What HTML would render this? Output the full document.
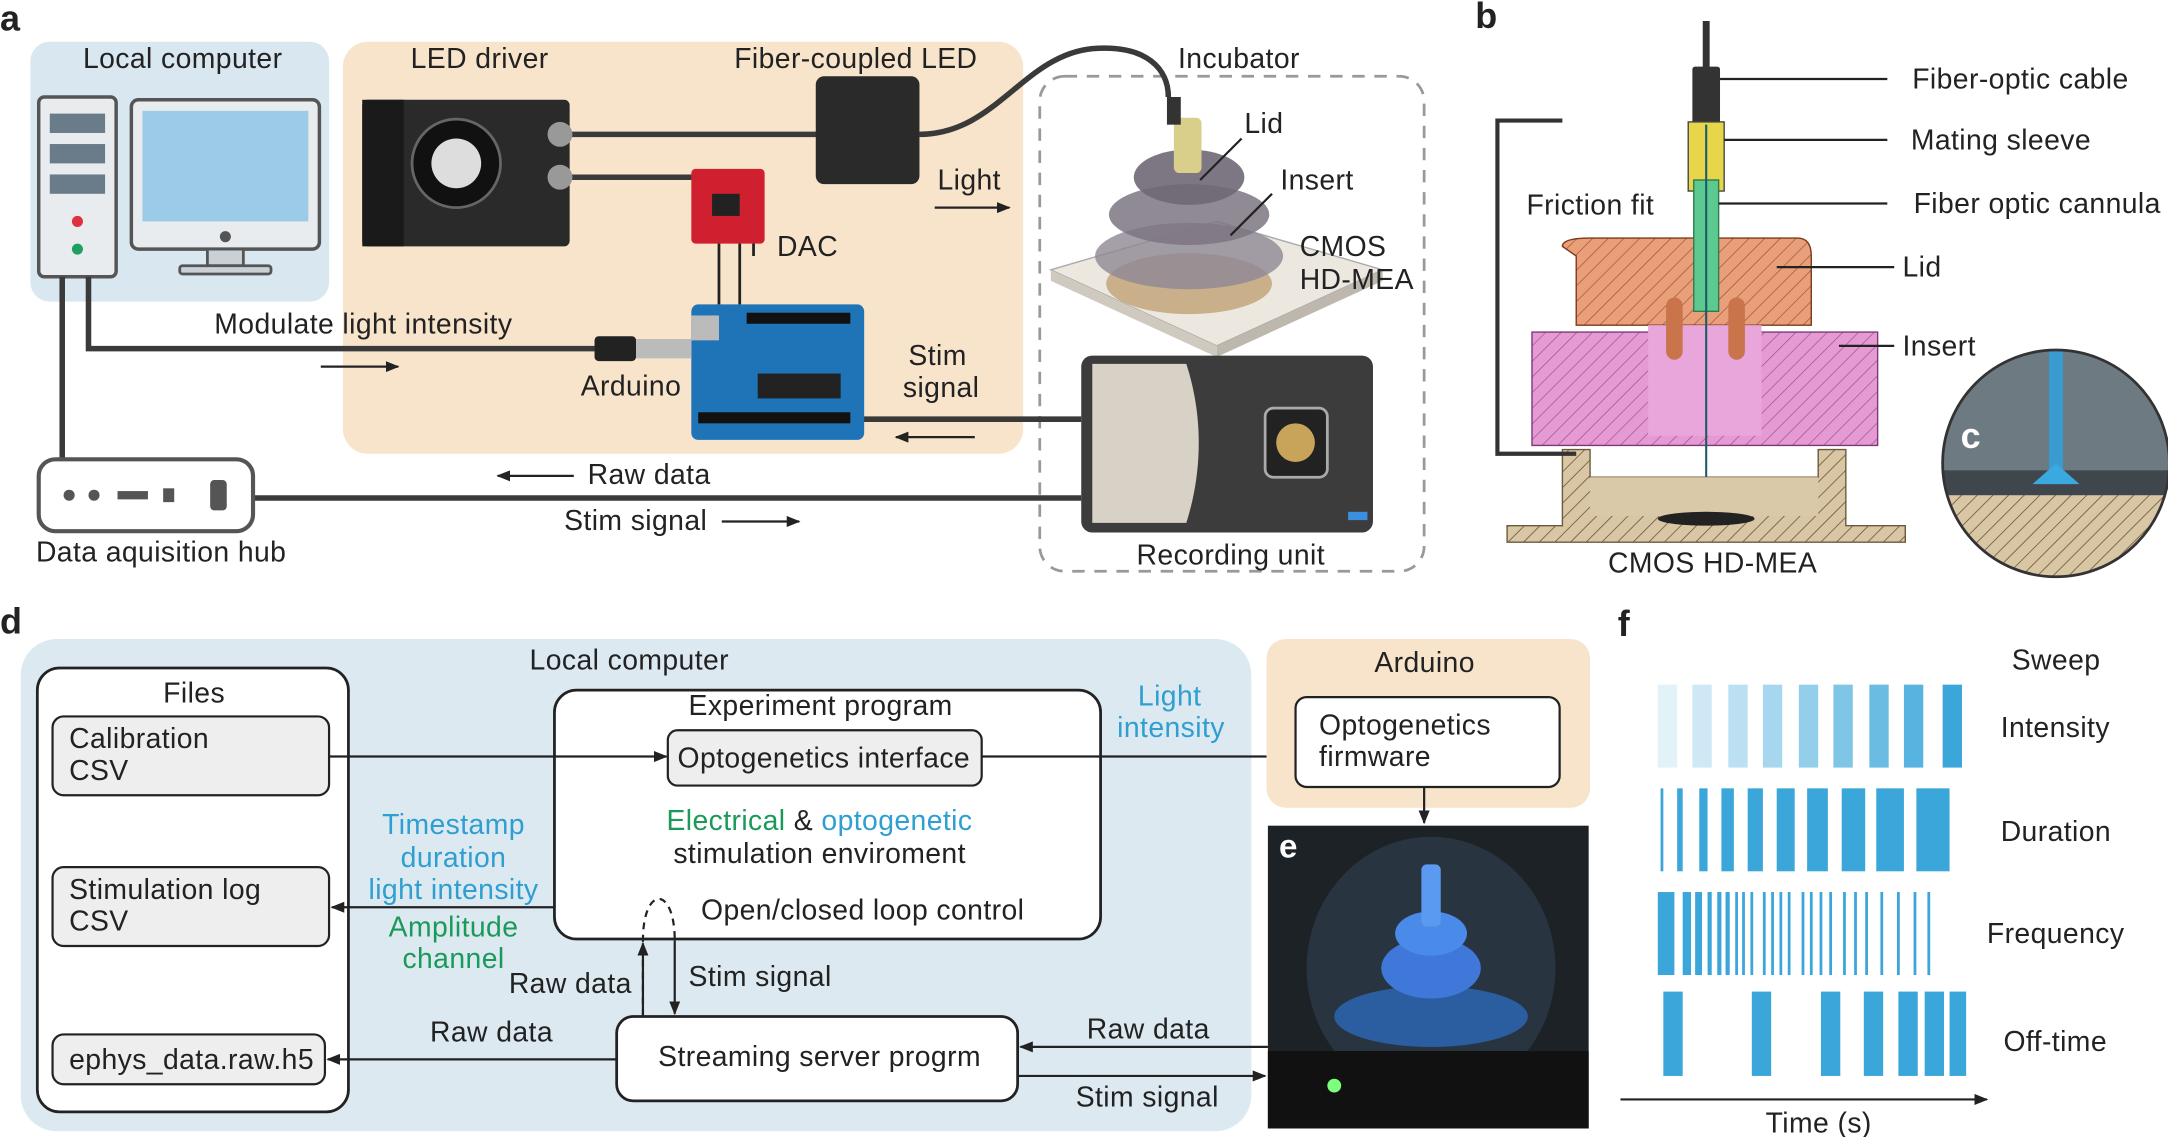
<!DOCTYPE html>
<html><head><meta charset="utf-8"><style>
html,body{margin:0;padding:0;background:#fff;}
svg{display:block;}
text{font-family:"Liberation Sans",sans-serif;fill:#222;}
text.l{font-size:20.5px;letter-spacing:0.3px;}
</style></head><body>
<svg width="2168" height="1137" viewBox="0 0 1568 822" xmlns="http://www.w3.org/2000/svg">
<defs>
<marker id="ar" markerWidth="10" markerHeight="8" refX="9" refY="4" orient="auto" markerUnits="userSpaceOnUse"><path d="M0,0 L10,4 L0,8 z" fill="#222"/></marker>
<pattern id="hatch" width="8" height="8" patternUnits="userSpaceOnUse" patternTransform="rotate(45)"><rect width="8" height="8" fill="#d9c6a5"/><line x1="0" y1="0" x2="0" y2="8" stroke="#6b5a3c" stroke-width="1.2"/></pattern>
<pattern id="hatchO" width="8" height="8" patternUnits="userSpaceOnUse" patternTransform="rotate(45)"><rect width="8" height="8" fill="#e9a07a"/><line x1="0" y1="0" x2="0" y2="8" stroke="#a0522d" stroke-width="1"/></pattern>
<pattern id="hatchP" width="8" height="8" patternUnits="userSpaceOnUse" patternTransform="rotate(45)"><rect width="8" height="8" fill="#e59ad3"/><line x1="0" y1="0" x2="0" y2="8" stroke="#a0508f" stroke-width="1"/></pattern>
</defs>

<!-- ============ Panel a ============ -->
<text x="0" y="22" font-size="26" font-weight="bold">a</text>
<rect x="22" y="30" width="216" height="188" rx="14" fill="#d8e7f0"/>
<rect x="248" y="30" width="492" height="298" rx="18" fill="#f7e4cb"/>
<rect x="752" y="55" width="278" height="358" rx="18" fill="none" stroke="#999" stroke-width="2" stroke-dasharray="9,7"/>

<text class="l" x="60" y="49">Local computer</text>
<text class="l" x="297" y="49">LED driver</text>
<text class="l" x="531" y="49">Fiber-coupled LED</text>
<text class="l" x="852" y="49">Incubator</text>

<rect x="28" y="70" width="56" height="130" rx="4" fill="#e8ecef" stroke="#555" stroke-width="2.5"/>
<rect x="36" y="82" width="40" height="14" fill="#6a7b89"/>
<rect x="36" y="104" width="40" height="14" fill="#6a7b89"/>
<rect x="36" y="126" width="40" height="14" fill="#6a7b89"/>
<circle cx="56" cy="160" r="4" fill="#e03040"/><circle cx="56" cy="180" r="4" fill="#20a060"/>
<rect x="95" y="72" width="136" height="108" rx="5" fill="#e8ecef" stroke="#555" stroke-width="2.5"/>
<rect x="103" y="80" width="120" height="80" fill="#9ccbe7"/>
<circle cx="163" cy="171" r="4" fill="#555"/>
<rect x="150" y="180" width="26" height="12" fill="#c9d0d6" stroke="#555" stroke-width="2"/>
<rect x="130" y="192" width="66" height="6" rx="2" fill="#c9d0d6" stroke="#555" stroke-width="2"/>

<g stroke="#3a3a3a" stroke-width="4" fill="none">
<path d="M64,200 V252 H430"/>
<path d="M45,200 V332"/>
<path d="M183,360 H782"/>
<path d="M620,303 H782"/>
<path d="M412,97 H595"/>
<path d="M412,128 H505"/>
<path d="M665,97 C720,97 740,40 790,35 C830,32 845,50 845,70"/>
</g>
<rect x="262" y="72" width="150" height="106" rx="4" fill="#2a2a2a"/>
<rect x="262" y="72" width="30" height="106" fill="#1a1a1a"/>
<circle cx="330" cy="118" r="32" fill="#111" stroke="#666" stroke-width="2"/>
<circle cx="330" cy="118" r="18" fill="#ddd"/>
<circle cx="405" cy="97" r="9" fill="#999"/><circle cx="405" cy="128" r="9" fill="#999"/>
<rect x="590" y="55" width="75" height="78" rx="6" fill="#2a2a2a"/>
<rect x="500" y="122" width="53" height="54" rx="3" fill="#d02030"/>
<rect x="515" y="140" width="20" height="16" fill="#222"/>
<g stroke="#222" stroke-width="2"><line x1="520" y1="176" x2="520" y2="220"/><line x1="535" y1="176" x2="535" y2="220"/><line x1="545" y1="176" x2="545" y2="185"/></g>
<text class="l" x="562" y="185">DAC</text>
<rect x="500" y="220" width="125" height="98" rx="5" fill="#1f73b7"/>
<rect x="500" y="228" width="20" height="18" fill="#bbb"/>
<rect x="548" y="270" width="60" height="18" fill="#222"/>
<rect x="505" y="298" width="110" height="8" fill="#111"/>
<rect x="540" y="226" width="75" height="8" fill="#111"/>
<rect x="430" y="243" width="30" height="18" rx="3" fill="#222"/>
<rect x="460" y="245" width="40" height="14" fill="#bbb"/>
<text class="l" x="420" y="286">Arduino</text>
<text class="l" x="155" y="241">Modulate light intensity</text>
<line x1="232" y1="265" x2="288" y2="265" stroke="#222" stroke-width="1.6" marker-end="url(#ar)"/>
<text class="l" x="678" y="137">Light</text>
<line x1="676" y1="150" x2="730" y2="150" stroke="#222" stroke-width="1.6" marker-end="url(#ar)"/>
<text class="l" x="657" y="264">Stim</text>
<text class="l" x="653" y="287">signal</text>
<line x1="705" y1="316" x2="648" y2="316" stroke="#222" stroke-width="1.6" marker-end="url(#ar)"/>

<polygon points="760,195 880,160 1000,195 880,250" fill="#ece8e0" stroke="#aaa"/>
<polygon points="760,195 880,250 880,258 760,203" fill="#cfc9bf"/>
<polygon points="880,250 1000,195 1000,203 880,258" fill="#bdb7ad"/>
<ellipse cx="860" cy="205" rx="60" ry="22" fill="#c9b08a"/>
<ellipse cx="860" cy="185" rx="68" ry="24" fill="#8e8793" opacity="0.8"/>
<ellipse cx="860" cy="155" rx="58" ry="22" fill="#7d7683" opacity="0.85"/>
<ellipse cx="860" cy="128" rx="40" ry="20" fill="#6f6875" opacity="0.9"/>
<rect x="849" y="85" width="20" height="40" rx="4" fill="#d9cf8a"/>
<rect x="844" y="70" width="10" height="20" fill="#333"/>
<line x1="868" y1="130" x2="898" y2="100" stroke="#222" stroke-width="1.6"/>
<line x1="890" y1="170" x2="920" y2="140" stroke="#222" stroke-width="1.6"/>
<text class="l" x="900" y="96">Lid</text>
<text class="l" x="926" y="137">Insert</text>
<text class="l" x="940" y="185">CMOS</text>
<text class="l" x="940" y="209">HD-MEA</text>

<rect x="782" y="257" width="211" height="128" rx="8" fill="#3c3c3c"/>
<path d="M790,263 H858 C870,300 870,340 858,378 H790 z" fill="#d8d2c6"/>
<rect x="915" y="295" width="45" height="50" rx="6" fill="#222" stroke="#aaa" stroke-width="2"/>
<circle cx="937" cy="320" r="14" fill="#c8a45a"/>
<rect x="975" y="370" width="14" height="6" fill="#3a8fe0"/>
<text class="l" x="822" y="408">Recording unit</text>

<rect x="28" y="332" width="155" height="52" rx="12" fill="#fff" stroke="#555" stroke-width="3"/>
<circle cx="50" cy="358" r="4" fill="#555"/><circle cx="68" cy="358" r="4" fill="#555"/>
<rect x="85" y="355" width="22" height="6" fill="#555"/><rect x="118" y="353" width="8" height="10" fill="#555"/>
<rect x="152" y="347" width="12" height="22" rx="3" fill="#555"/>
<text class="l" x="26" y="406">Data aquisition hub</text>
<text class="l" x="425" y="350">Raw data</text>
<line x1="415" y1="344" x2="360" y2="344" stroke="#222" stroke-width="1.6" marker-end="url(#ar)"/>
<text class="l" x="408" y="383">Stim signal</text>
<line x1="522" y1="377" x2="578" y2="377" stroke="#222" stroke-width="1.6" marker-end="url(#ar)"/>

<!-- ============ Panel b ============ -->
<text x="1067" y="20" font-size="26" font-weight="bold">b</text>
<line x1="1234" y1="15" x2="1234" y2="50" stroke="#333" stroke-width="5"/>
<rect x="1224" y="48" width="20" height="42" rx="2" fill="#333"/>
<rect x="1221" y="88" width="26" height="50" fill="#e8d64a" stroke="#444"/>
<path d="M1130,178 Q1130,172 1150,172 H1300 Q1310,172 1310,185 V235 H1140 V185 z" fill="url(#hatchO)" stroke="#7a3a1a"/>
<rect x="1108" y="240" width="250" height="82" fill="url(#hatchP)" stroke="#7a3a7a"/>
<rect x="1192" y="235" width="82" height="80" fill="#e9a6da"/>
<rect x="1225" y="130" width="18" height="95" fill="#5cc98e" stroke="#2f7a50"/>
<rect x="1205" y="215" width="12" height="45" rx="6" fill="#c9744a"/>
<rect x="1250" y="215" width="12" height="45" rx="6" fill="#c9744a"/>
<line x1="1234" y1="90" x2="1234" y2="380" stroke="#1a5a6a" stroke-width="1.5"/>
<path d="M1090,392 V380 H1130 V325 H1150 V345 H1315 V325 H1335 V380 H1378 V392 z" fill="url(#hatch)" stroke="#6b5a3c"/>
<rect x="1150" y="345" width="165" height="28" fill="#d9c9a8"/>
<ellipse cx="1234" cy="375" rx="35" ry="5" fill="#222"/>
<polyline points="1130,87 1083,87 1083,328 1140,328" fill="none" stroke="#333" stroke-width="3"/>
<text class="l" x="1104" y="155">Friction fit</text>
<text class="l" x="1163" y="414">CMOS HD-MEA</text>
<g stroke="#222" stroke-width="1.6">
<line x1="1244" y1="57" x2="1365" y2="57"/>
<line x1="1247" y1="101" x2="1365" y2="101"/>
<line x1="1243" y1="147" x2="1365" y2="147"/>
<line x1="1285" y1="193" x2="1370" y2="193"/>
<line x1="1330" y1="250" x2="1370" y2="250"/>
</g>
<text class="l" x="1383" y="64">Fiber-optic cable</text>
<text class="l" x="1382" y="108">Mating sleeve</text>
<text class="l" x="1384" y="154">Fiber optic cannula</text>
<text class="l" x="1376" y="200">Lid</text>
<text class="l" x="1376" y="257">Insert</text>
<clipPath id="cc"><circle cx="1487" cy="335" r="82"/></clipPath>
<g clip-path="url(#cc)">
<rect x="1400" y="250" width="180" height="170" fill="#6e7a82"/>
<rect x="1400" y="340" width="180" height="20" fill="#3f474d"/>
<rect x="1400" y="358" width="180" height="70" fill="url(#hatch)"/>
<rect x="1482" y="250" width="10" height="95" fill="#3a9bd0"/>
<path d="M1470,350 L1487,335 L1504,350 z" fill="#3aa9e0"/>
</g>
<circle cx="1487" cy="335" r="82" fill="none" stroke="#333" stroke-width="2"/>
<text x="1418" y="324" font-size="26" font-weight="bold" style="fill:#fff">c</text>

<!-- ============ Panel d ============ -->
<text x="0" y="458" font-size="26" font-weight="bold">d</text>
<rect x="15" y="462" width="890" height="356" rx="26" fill="#dde9f1"/>
<text class="l" x="383" y="484">Local computer</text>
<rect x="27" y="483" width="225" height="321" rx="16" fill="#fff" stroke="#222" stroke-width="2"/>
<text class="l" x="118" y="508">Files</text>
<rect x="38" y="518" width="200" height="57" rx="8" fill="#eee" stroke="#222" stroke-width="1.6"/>
<text class="l" x="50" y="541">Calibration</text><text class="l" x="50" y="564">CSV</text>
<rect x="38" y="627" width="200" height="57" rx="8" fill="#eee" stroke="#222" stroke-width="1.6"/>
<text class="l" x="50" y="650">Stimulation log</text><text class="l" x="50" y="673">CSV</text>
<rect x="38" y="748" width="197" height="36" rx="8" fill="#eee" stroke="#222" stroke-width="1.6"/>
<text class="l" x="50" y="773">ephys_data.raw.h5</text>

<rect x="401" y="499" width="395" height="180" rx="16" fill="#fff" stroke="#222" stroke-width="2"/>
<text class="l" x="498" y="517">Experiment program</text>
<rect x="483" y="528" width="227" height="40" rx="7" fill="#eee" stroke="#222" stroke-width="1.6"/>
<text class="l" x="490" y="555">Optogenetics interface</text>
<text class="l" x="482" y="600"><tspan style="fill:#1a9a5a">Electrical</tspan> &amp; <tspan style="fill:#2e9fd0">optogenetic</tspan></text>
<text class="l" x="487" y="624">stimulation enviroment</text>
<text class="l" x="507" y="665">Open/closed loop control</text>

<line x1="238" y1="547" x2="482" y2="547" stroke="#222" stroke-width="1.6" marker-end="url(#ar)"/>
<line x1="710" y1="547" x2="935" y2="547" stroke="#222" stroke-width="1.6" marker-end="url(#ar)"/>
<text class="l" x="823" y="510" style="fill:#2e9fd0">Light</text>
<text class="l" x="808" y="533" style="fill:#2e9fd0">intensity</text>
<line x1="401" y1="656" x2="240" y2="656" stroke="#222" stroke-width="1.6" marker-end="url(#ar)"/>
<g text-anchor="middle">
<text class="l" x="328" y="603" style="fill:#2e9fd0">Timestamp</text>
<text class="l" x="328" y="627" style="fill:#2e9fd0">duration</text>
<text class="l" x="328" y="650" style="fill:#2e9fd0">light intensity</text>
<text class="l" x="328" y="677" style="fill:#1a9a5a">Amplitude</text>
<text class="l" x="328" y="700" style="fill:#1a9a5a">channel</text>
</g>
<path d="M465,735 V680 C465,640 488,640 488,680" fill="none" stroke="#222" stroke-width="1.6" stroke-dasharray="5,4"/>
<line x1="465" y1="735" x2="465" y2="682" stroke="#222" stroke-width="1.6" marker-end="url(#ar)"/>
<line x1="488" y1="680" x2="488" y2="733" stroke="#222" stroke-width="1.6" marker-end="url(#ar)"/>
<text class="l" x="368" y="718">Raw data</text>
<text class="l" x="498" y="713">Stim signal</text>

<rect x="446" y="735" width="290" height="61" rx="12" fill="#fff" stroke="#222" stroke-width="2"/>
<text class="l" x="476" y="771">Streaming server progrm</text>
<line x1="446" y1="766" x2="237" y2="766" stroke="#222" stroke-width="1.6" marker-end="url(#ar)"/>
<text class="l" x="311" y="753">Raw data</text>
<line x1="917" y1="757" x2="738" y2="757" stroke="#222" stroke-width="1.6" marker-end="url(#ar)"/>
<line x1="736" y1="778" x2="915" y2="778" stroke="#222" stroke-width="1.6" marker-end="url(#ar)"/>
<text class="l" x="786" y="751">Raw data</text>
<text class="l" x="778" y="800">Stim signal</text>

<rect x="916" y="462" width="234" height="122" rx="14" fill="#f7e4cb"/>
<text class="l" x="994" y="486">Arduino</text>
<rect x="937" y="504" width="191" height="65" rx="8" fill="#fff" stroke="#222" stroke-width="1.6"/>
<text class="l" x="954" y="531">Optogenetics</text><text class="l" x="954" y="554">firmware</text>
<line x1="1030" y1="569" x2="1030" y2="595" stroke="#222" stroke-width="1.6" marker-end="url(#ar)"/>

<rect x="917" y="597" width="232" height="219" fill="#1c2226"/>
<ellipse cx="1035" cy="700" rx="90" ry="95" fill="#2d3a48" opacity="0.8"/>
<ellipse cx="1035" cy="735" rx="70" ry="22" fill="#2a5ea0"/>
<ellipse cx="1035" cy="700" rx="36" ry="22" fill="#3f78d8"/>
<ellipse cx="1035" cy="675" rx="26" ry="16" fill="#4a8ae8"/>
<rect x="1028" y="625" width="14" height="45" rx="4" fill="#5a9af0"/>
<rect x="917" y="760" width="232" height="56" fill="#111"/>
<circle cx="965" cy="785" r="5" fill="#7cff7c"/>
<text x="925" y="620" font-size="24" font-weight="bold" style="fill:#fff">e</text>

<!-- ============ Panel f ============ -->
<text x="1170" y="460" font-size="26" font-weight="bold">f</text>
<text class="l" x="1455" y="484">Sweep</text>
<text class="l" x="1447" y="533">Intensity</text>
<text class="l" x="1447" y="608">Duration</text>
<text class="l" x="1437" y="682">Frequency</text>
<text class="l" x="1449" y="760">Off-time</text>
<g fill="#3aa6d9">
<rect x="1199" y="495" width="14" height="60" opacity="0.15"/>
<rect x="1224" y="495" width="14" height="60" opacity="0.25"/>
<rect x="1250" y="495" width="14" height="60" opacity="0.35"/>
<rect x="1275" y="495" width="14" height="60" opacity="0.45"/>
<rect x="1301" y="495" width="14" height="60" opacity="0.55"/>
<rect x="1326" y="495" width="14" height="60" opacity="0.65"/>
<rect x="1352" y="495" width="14" height="60" opacity="0.75"/>
<rect x="1377" y="495" width="14" height="60" opacity="0.85"/>
<rect x="1405" y="495" width="14" height="60"/>
<rect x="1201" y="570" width="2" height="60"/><rect x="1213" y="570" width="4" height="60"/>
<rect x="1229" y="570" width="6" height="60"/><rect x="1245" y="570" width="9" height="60"/>
<rect x="1264" y="570" width="11" height="60"/><rect x="1285" y="570" width="13" height="60"/>
<rect x="1307" y="570" width="15" height="60"/><rect x="1332" y="570" width="17" height="60"/>
<rect x="1357" y="570" width="20" height="60"/><rect x="1386" y="570" width="24" height="60"/>
<rect x="1199" y="645" width="12" height="60"/>
<rect x="1217" y="645" width="6" height="60"/><rect x="1226" y="645" width="5" height="60"/>
<rect x="1235" y="645" width="3" height="60"/><rect x="1242" y="645" width="3" height="60"/><rect x="1248" y="645" width="3" height="60"/>
<rect x="1255" y="645" width="2" height="60"/><rect x="1260" y="645" width="2" height="60"/><rect x="1266" y="645" width="2" height="60"/>
<rect x="1275" y="645" width="2" height="60"/><rect x="1281" y="645" width="2" height="60"/><rect x="1287" y="645" width="2" height="60"/><rect x="1293" y="645" width="2" height="60"/>
<rect x="1303" y="645" width="2" height="60"/><rect x="1309" y="645" width="2" height="60"/><rect x="1316" y="645" width="2" height="60"/><rect x="1323" y="645" width="2" height="60"/>
<rect x="1333" y="645" width="2" height="60"/><rect x="1341" y="645" width="2" height="60"/><rect x="1349" y="645" width="2" height="60"/>
<rect x="1360" y="645" width="2" height="60"/><rect x="1372" y="645" width="2" height="60"/><rect x="1384" y="645" width="2" height="60"/>
<rect x="1394" y="645" width="2" height="60"/>
<rect x="1203" y="717" width="14" height="61"/><rect x="1267" y="717" width="14" height="61"/>
<rect x="1317" y="717" width="14" height="61"/><rect x="1348" y="717" width="14" height="61"/>
<rect x="1373" y="717" width="14" height="61"/><rect x="1392" y="717" width="14" height="61"/>
<rect x="1410" y="717" width="12" height="61"/>
</g>
<line x1="1172" y1="795" x2="1437" y2="795" stroke="#222" stroke-width="1.6" marker-end="url(#ar)"/>
<text class="l" x="1277" y="819">Time (s)</text>
</svg>
</body></html>
